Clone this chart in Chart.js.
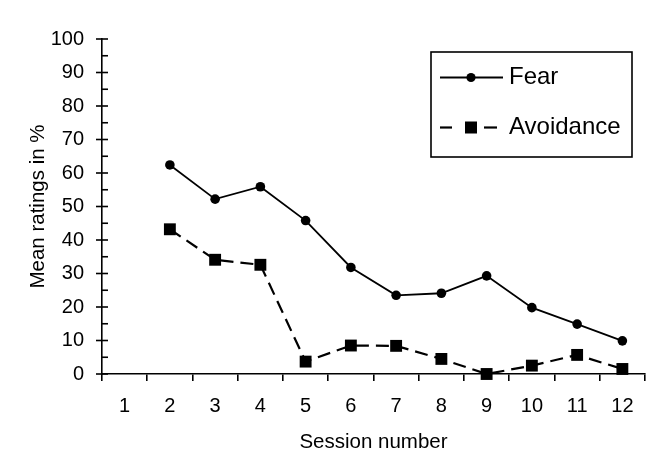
<!DOCTYPE html>
<html><head><meta charset="utf-8">
<script src="https://cdn.jsdelivr.net/npm/chart.js@4/dist/chart.umd.min.js"></script>
<style>html,body{margin:0;padding:0;background:#fff}#wrap{width:662px;height:472px}</style>
</head><body><div id="wrap"><canvas id="c" width="662" height="472"></canvas></div>
<script>
const sessions = ['1','2','3','4','5','6','7','8','9','10','11','12'];
const fear = [null, 62.4, 52.2, 55.9, 45.8, 31.8, 23.5, 24.1, 29.3, 19.8, 14.9, 9.9];
const avoidance = [null, 43.2, 34.1, 32.6, 3.7, 8.5, 8.4, 4.5, 0.0, 2.5, 5.7, 1.5];
const seriesNames = ['Fear', 'Avoidance'];
const yMin = 0, yMax = 100, yStep = 10, yMinorStep = 5;

const FONT = "'Liberation Sans', Arial, sans-serif";

const deco = {
  id: 'deco',
  afterDraw(chart) {
    const ctx = chart.ctx;
    const y = chart.scales.y;
    const left = chart.chartArea.left;
    ctx.save();
    ctx.strokeStyle = '#000';
    ctx.lineWidth = 1.6;
    for (let v = yMin; v <= yMax; v += yMinorStep) {
      const py = y.getPixelForValue(v);
      ctx.beginPath();
      if (v % yStep === 0) { ctx.moveTo(left - 6, py); ctx.lineTo(left + 6, py); }
      else { ctx.moveTo(left, py); ctx.lineTo(left + 6, py); }
      ctx.stroke();
    }
    // legend box
    const bx = 431, by = 52, bw = 201, bh = 105;
    ctx.lineWidth = 1.6;
    ctx.strokeRect(bx, by, bw, bh);
    const fy = 77.5, ay = 127.5, mx = 471;
    // Fear sample
    ctx.lineWidth = 1.8;
    ctx.beginPath(); ctx.moveTo(440, fy); ctx.lineTo(503, fy); ctx.stroke();
    ctx.fillStyle = '#000';
    ctx.beginPath(); ctx.arc(mx, fy, 4.6, 0, Math.PI * 2); ctx.fill();
    // Avoidance sample
    ctx.lineWidth = 2.2;
    ctx.beginPath(); ctx.moveTo(440, ay); ctx.lineTo(452, ay); ctx.stroke();
    ctx.beginPath(); ctx.moveTo(484, ay); ctx.lineTo(497, ay); ctx.stroke();
    ctx.fillRect(mx - 6, ay - 6, 12, 12);
    ctx.font = "24px " + FONT;
    ctx.textBaseline = 'middle';
    ctx.textAlign = 'left';
    ctx.fillText(seriesNames[0], 509, fy);
    ctx.fillText(seriesNames[1], 509, ay);
    ctx.restore();
  }
};

new Chart(document.getElementById('c'), {
  type: 'line',
  data: {
    labels: sessions,
    datasets: [
      { label: seriesNames[0], data: fear, borderColor: '#000', borderWidth: 1.8,
        pointStyle: 'circle', pointRadius: 4.8, pointBackgroundColor: '#000', pointBorderColor: '#000', pointBorderWidth: 0,
        tension: 0, clip: false, fill: false },
      { label: seriesNames[1], data: avoidance, borderColor: '#000', borderWidth: 2.2, borderDash: [13, 7],
        pointStyle: 'rect', pointRadius: 8.4, pointBackgroundColor: '#000', pointBorderColor: '#000', pointBorderWidth: 0,
        tension: 0, clip: false, fill: false }
    ]
  },
  options: {
    responsive: false, animation: false, devicePixelRatio: 1,
    layout: { padding: { top: 39, right: 17, left: 0, bottom: 0 } },
    plugins: { legend: { display: false }, tooltip: { enabled: false } },
    scales: {
      x: {
        type: 'category', offset: true,
        afterFit: s => { s.height = 98; },
        grid: { display: true, drawOnChartArea: false, drawTicks: true, tickLength: 7, offset: true, color: '#000', lineWidth: 1.6 },
        border: { display: true, color: '#000', width: 1.6 },
        ticks: { color: '#000', font: { family: FONT, size: 20 }, padding: 13, maxRotation: 0, autoSkip: false },
        title: { display: true, text: 'Session number', color: '#000', font: { family: FONT, size: 20.5 }, padding: { top: 0, bottom: 17 } }
      },
      y: {
        min: yMin, max: yMax,
        afterFit: s => { s.width = 102; },
        grid: { display: false, drawTicks: false },
        border: { display: true, color: '#000', width: 1.6 },
        ticks: { stepSize: yStep, color: '#000', font: { family: FONT, size: 20 }, padding: 18 },
        title: { display: true, text: 'Mean ratings in %', color: '#000', font: { family: FONT, size: 20.5 }, padding: { top: 26, bottom: 0 } }
      }
    }
  },
  plugins: [deco]
});
</script>
</body></html>
